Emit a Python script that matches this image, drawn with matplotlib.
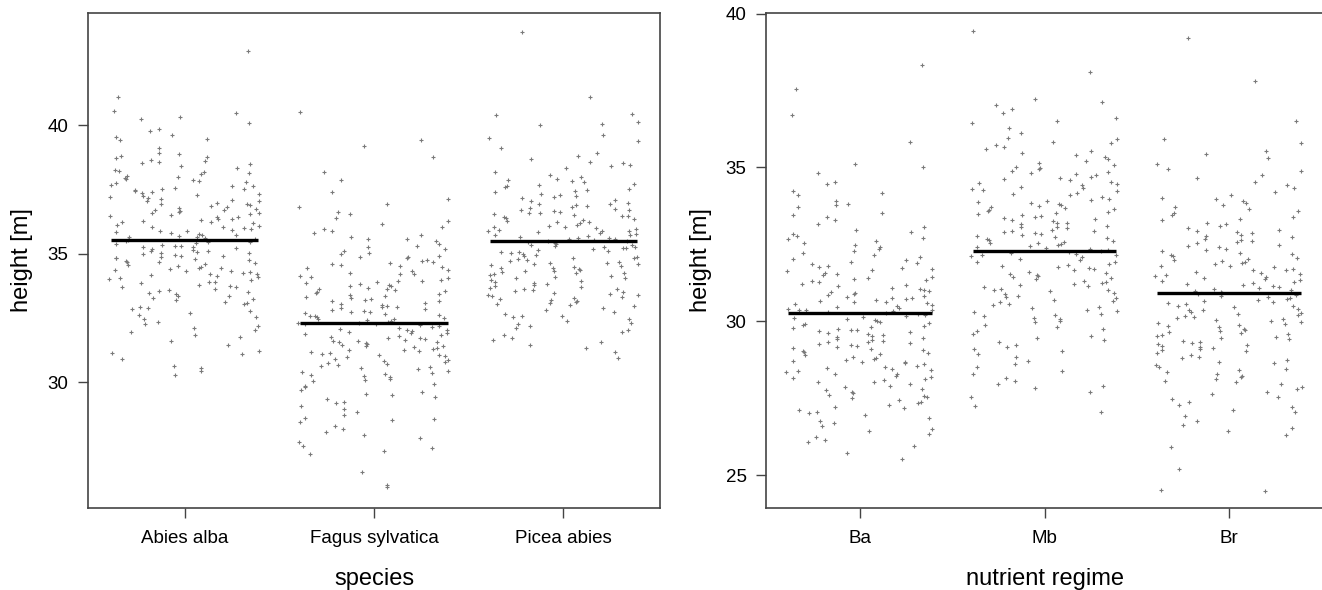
import numpy as np
import matplotlib.pyplot as plt

plt.rcParams['font.family'] = ['Liberation Sans', 'DejaVu Sans']

# tree heights [m] per species (left panel)
species = ['Abies alba', 'Fagus sylvatica', 'Picea abies']
abies_alba = [
    42.88, 41.09,
    40.54, 40.47, 40.31, 40.08, 40.22,
    39.83, 39.78, 39.52, 39.47, 39.41, 39.12, 39.63,
    38.93, 38.81, 38.76, 38.72, 38.65, 38.58, 38.51, 38.47, 38.39, 38.33, 38.27, 38.21, 38.14, 38.08, 38.02, 38.86, 38.62, 38.18,
    37.96, 37.91, 37.84, 37.79, 37.73, 37.68, 37.62, 37.57, 37.53, 37.46, 37.41, 37.37, 37.32, 37.26, 37.21, 37.17, 37.12, 37.06,
    37.03, 37.85, 37.64, 37.43, 37.24, 37.93, 37.09, 37.51,
    36.97, 36.92, 36.88, 36.83, 36.79, 36.74, 36.71, 36.66, 36.62, 36.57, 36.53, 36.49, 36.44, 36.41, 36.36, 36.31, 36.27, 36.22,
    36.18, 36.13, 36.08, 36.04, 36.94, 36.69, 36.46, 36.24, 36.59, 36.33, 36.02, 36.86,
    35.98, 35.94, 35.91, 35.87, 35.83, 35.79, 35.76, 35.72, 35.68, 35.64, 35.61, 35.57, 35.53, 35.49, 35.46, 35.42, 35.38, 35.35,
    35.31, 35.28, 35.24, 35.21, 35.17, 35.14, 35.11, 35.07, 35.04, 35.01, 35.89, 35.66, 35.44, 35.26, 35.09, 35.73,
    34.97, 34.93, 34.89, 34.86, 34.82, 34.78, 34.74, 34.71, 34.67, 34.63, 34.59, 34.56, 34.52, 34.48, 34.45, 34.41, 34.37, 34.34,
    34.31, 34.27, 34.23, 34.19, 34.16, 34.12, 34.08, 34.05, 34.02, 34.91, 34.69, 34.43, 34.21, 34.84,
    33.96, 33.91, 33.85, 33.79, 33.74, 33.68, 33.62, 33.57, 33.51, 33.46, 33.41, 33.36, 33.29, 33.24, 33.18, 33.13, 33.07, 33.02,
    33.88, 33.54, 33.33, 33.71,
    32.94, 32.86, 32.77, 32.68, 32.55, 32.46, 32.33, 32.24, 32.17, 32.09, 32.02, 32.61, 32.89,
    31.93, 31.74, 31.61, 31.43, 31.22, 31.14, 31.08, 31.82,
    30.91, 30.62, 30.53, 30.42, 30.27,
]
fagus_sylvatica = [
    40.52, 39.43, 39.18, 38.74, 38.17,
    37.86, 37.41, 37.12,
    36.94, 36.81, 36.63, 36.52, 36.38, 36.27, 36.14, 36.03,
    35.96, 35.88, 35.79, 35.71, 35.64, 35.55, 35.47, 35.39, 35.31, 35.24, 35.16, 35.09, 35.02, 35.58,
    34.97, 34.92, 34.86, 34.81, 34.76, 34.71, 34.64, 34.58, 34.53, 34.47, 34.42, 34.36, 34.31, 34.25, 34.19, 34.14, 34.08, 34.03,
    34.88, 34.55, 34.22, 34.67,
    33.98, 33.94, 33.89, 33.85, 33.81, 33.76, 33.72, 33.67, 33.63, 33.58, 33.54, 33.49, 33.45, 33.41, 33.36, 33.32, 33.27, 33.23,
    33.18, 33.14, 33.09, 33.05, 33.01, 33.92, 33.61, 33.38, 33.16, 33.74,
    32.97, 32.94, 32.91, 32.87, 32.84, 32.81, 32.77, 32.74, 32.71, 32.67, 32.64, 32.61, 32.57, 32.54, 32.51, 32.47, 32.44, 32.41,
    32.37, 32.34, 32.31, 32.27, 32.24, 32.21, 32.17, 32.14, 32.11, 32.07, 32.04, 32.01, 32.58, 32.29,
    31.98, 31.95, 31.92, 31.89, 31.86, 31.83, 31.79, 31.76, 31.73, 31.70, 31.67, 31.64, 31.61, 31.57, 31.54, 31.51, 31.48, 31.45,
    31.42, 31.39, 31.35, 31.32, 31.29, 31.26, 31.23, 31.20, 31.16, 31.13, 31.10, 31.07, 31.04, 31.01, 31.58,
    30.96, 30.91, 30.87, 30.82, 30.78, 30.73, 30.68, 30.64, 30.59, 30.55, 30.50, 30.45, 30.41, 30.36, 30.32, 30.27, 30.22, 30.18,
    30.13, 30.09, 30.04, 30.71,
    29.93, 29.84, 29.71, 29.62, 29.55, 29.43, 29.36, 29.24, 29.17, 29.08, 29.51, 29.79,
    28.96, 28.85, 28.73, 28.61, 28.52, 28.44, 28.31, 28.19, 28.07, 28.58,
    27.94, 27.81, 27.66, 27.53, 27.42, 27.31, 27.22,
    26.52, 25.98, 25.91,
]
picea_abies = [
    43.63, 41.08,
    40.42, 40.38, 40.13, 40.06, 40.01,
    39.62, 39.51, 39.12, 39.38,
    38.92, 38.67, 38.58, 38.52, 38.46, 38.41, 38.33, 38.19, 38.07, 38.79,
    37.97, 37.91, 37.86, 37.78, 37.71, 37.64, 37.58, 37.52, 37.45, 37.39, 37.33, 37.27, 37.21, 37.16, 37.10, 37.04, 37.82, 37.48,
    37.24, 37.67,
    36.97, 36.93, 36.89, 36.85, 36.81, 36.77, 36.73, 36.69, 36.65, 36.61, 36.57, 36.53, 36.49, 36.45, 36.41, 36.37, 36.33, 36.29,
    36.25, 36.21, 36.17, 36.13, 36.09, 36.05, 36.02, 36.91, 36.71, 36.47, 36.23, 36.59,
    35.98, 35.95, 35.92, 35.89, 35.86, 35.83, 35.80, 35.77, 35.74, 35.71, 35.68, 35.65, 35.62, 35.59, 35.56, 35.53, 35.50, 35.47,
    35.44, 35.41, 35.38, 35.35, 35.32, 35.29, 35.26, 35.23, 35.20, 35.17, 35.14, 35.11, 35.08, 35.05, 35.02, 35.87, 35.57, 35.27,
    34.97, 34.94, 34.91, 34.88, 34.84, 34.81, 34.78, 34.75, 34.71, 34.68, 34.65, 34.62, 34.58, 34.55, 34.52, 34.49, 34.45, 34.42,
    34.39, 34.36, 34.32, 34.29, 34.26, 34.23, 34.19, 34.16, 34.13, 34.10, 34.06, 34.03, 34.60, 34.34,
    33.97, 33.93, 33.89, 33.85, 33.82, 33.78, 33.74, 33.70, 33.66, 33.62, 33.58, 33.55, 33.51, 33.47, 33.43, 33.39, 33.35, 33.31,
    33.28, 33.24, 33.20, 33.16, 33.12, 33.08, 33.04, 33.01, 33.64, 33.37,
    32.95, 32.88, 32.81, 32.74, 32.66, 32.59, 32.52, 32.45, 32.38, 32.31, 32.24, 32.17, 32.10, 32.03, 32.56,
    31.96, 31.83, 31.71, 31.62, 31.54, 31.43, 31.31, 31.18,
    30.94,
]
species_means = [35.52, 32.30, 35.50]

# tree heights [m] per nutrient regime (right panel)
regimes = ['Ba', 'Mb', 'Br']
regime_ba = [
    38.34, 37.56, 36.71, 35.82, 35.11, 35.03,
    34.81, 34.52, 34.47, 34.23, 34.18, 34.09,
    33.92, 33.81, 33.77, 33.72, 33.51, 33.44, 33.38, 33.29, 33.17, 33.06,
    32.96, 32.91, 32.84, 32.77, 32.71, 32.62, 32.55, 32.48, 32.41, 32.36, 32.28, 32.21, 32.15, 32.09, 32.03, 32.68,
    31.98, 31.94, 31.89, 31.85, 31.80, 31.76, 31.71, 31.67, 31.62, 31.58, 31.53, 31.49, 31.44, 31.40, 31.35, 31.31, 31.26, 31.22,
    31.17, 31.13, 31.08, 31.04, 31.01, 31.73, 31.37,
    30.98, 30.95, 30.92, 30.89, 30.86, 30.83, 30.80, 30.77, 30.74, 30.71, 30.68, 30.65, 30.62, 30.59, 30.56, 30.53, 30.50, 30.47,
    30.44, 30.41, 30.38, 30.35, 30.32, 30.29, 30.26, 30.23, 30.20, 30.17, 30.14, 30.11, 30.08, 30.05, 30.02, 30.61, 30.37,
    29.97, 29.94, 29.91, 29.88, 29.85, 29.82, 29.79, 29.76, 29.73, 29.70, 29.67, 29.64, 29.61, 29.58, 29.55, 29.52, 29.49, 29.46,
    29.43, 29.40, 29.37, 29.34, 29.31, 29.28, 29.25, 29.22, 29.19, 29.16, 29.13, 29.10, 29.07, 29.04, 29.01,
    28.96, 28.93, 28.89, 28.85, 28.82, 28.78, 28.74, 28.71, 28.67, 28.63, 28.60, 28.56, 28.52, 28.49, 28.45, 28.41, 28.38, 28.34,
    28.30, 28.27, 28.23, 28.19, 28.16, 28.12, 28.08, 28.04, 28.01, 28.69,
    27.96, 27.91, 27.86, 27.81, 27.76, 27.71, 27.66, 27.61, 27.55, 27.50, 27.44, 27.39, 27.33, 27.28, 27.22, 27.17, 27.11, 27.06,
    27.02, 27.58,
    26.94, 26.85, 26.77, 26.68, 26.59, 26.51, 26.42, 26.33, 26.24, 26.15, 26.07,
    25.93, 25.71, 25.52,
]
regime_mb = [
    39.42, 38.11, 37.21, 37.12, 37.02,
    36.91, 36.78, 36.62, 36.51, 36.43, 36.28, 36.13,
    35.97, 35.91, 35.84, 35.78, 35.72, 35.66, 35.59, 35.53, 35.47, 35.41, 35.34, 35.27, 35.21, 35.15, 35.08, 35.02,
    34.98, 34.94, 34.90, 34.86, 34.82, 34.78, 34.74, 34.70, 34.66, 34.62, 34.58, 34.54, 34.50, 34.46, 34.42, 34.38, 34.34, 34.30,
    34.26, 34.22, 34.18, 34.14, 34.10, 34.04,
    33.98, 33.95, 33.91, 33.88, 33.85, 33.81, 33.78, 33.75, 33.71, 33.68, 33.65, 33.61, 33.58, 33.55, 33.51, 33.48, 33.45, 33.41,
    33.38, 33.35, 33.31, 33.28, 33.25, 33.21, 33.18, 33.15, 33.11, 33.08, 33.05, 33.02,
    32.98, 32.95, 32.92, 32.89, 32.86, 32.83, 32.80, 32.77, 32.74, 32.71, 32.68, 32.65, 32.62, 32.59, 32.56, 32.53, 32.50, 32.47,
    32.44, 32.41, 32.38, 32.35, 32.32, 32.29, 32.26, 32.23, 32.20, 32.17, 32.14, 32.11, 32.08, 32.04,
    31.98, 31.94, 31.91, 31.87, 31.83, 31.80, 31.76, 31.72, 31.69, 31.65, 31.61, 31.58, 31.54, 31.50, 31.47, 31.43, 31.39, 31.36,
    31.32, 31.28, 31.25, 31.21, 31.17, 31.14, 31.10, 31.06, 31.03, 31.01,
    30.97, 30.92, 30.88, 30.83, 30.79, 30.74, 30.70, 30.65, 30.61, 30.56, 30.52, 30.47, 30.43, 30.38, 30.34, 30.29, 30.25, 30.20,
    30.16, 30.11, 30.07, 30.02,
    29.96, 29.89, 29.82, 29.74, 29.67, 29.60, 29.53, 29.46, 29.38, 29.31, 29.24, 29.17, 29.10, 29.03,
    28.94, 28.83, 28.72, 28.61, 28.50, 28.39, 28.28, 28.17, 28.06,
    27.95, 27.88, 27.82, 27.71, 27.54, 27.23, 27.04,
]
regime_br = [
    39.21, 37.82, 36.52,
    35.94, 35.78, 35.52, 35.44, 35.31, 35.12,
    34.96, 34.87, 34.76, 34.65, 34.54, 34.43, 34.32, 34.21, 34.10, 34.02,
    33.97, 33.91, 33.85, 33.78, 33.72, 33.66, 33.59, 33.53, 33.47, 33.40, 33.34, 33.28, 33.21, 33.15, 33.09, 33.03,
    32.98, 32.94, 32.90, 32.86, 32.82, 32.78, 32.73, 32.69, 32.65, 32.61, 32.57, 32.53, 32.48, 32.44, 32.40, 32.36, 32.32, 32.28,
    32.23, 32.19, 32.15, 32.11, 32.07, 32.02,
    31.98, 31.95, 31.91, 31.88, 31.85, 31.81, 31.78, 31.75, 31.71, 31.68, 31.65, 31.61, 31.58, 31.55, 31.51, 31.48, 31.45, 31.41,
    31.38, 31.35, 31.31, 31.28, 31.25, 31.21, 31.18, 31.15, 31.11, 31.08, 31.05, 31.02,
    30.98, 30.95, 30.91, 30.88, 30.85, 30.81, 30.78, 30.75, 30.71, 30.68, 30.65, 30.61, 30.58, 30.55, 30.51, 30.48, 30.45, 30.41,
    30.38, 30.35, 30.31, 30.28, 30.25, 30.21, 30.18, 30.15, 30.11, 30.08, 30.05, 30.02,
    29.98, 29.94, 29.91, 29.87, 29.84, 29.80, 29.76, 29.73, 29.69, 29.66, 29.62, 29.59, 29.55, 29.51, 29.48, 29.44, 29.41, 29.37,
    29.34, 29.30, 29.26, 29.23, 29.19, 29.16, 29.12, 29.09, 29.05, 29.02,
    28.96, 28.91, 28.85, 28.79, 28.74, 28.68, 28.63, 28.57, 28.51, 28.46, 28.40, 28.35, 28.29, 28.23, 28.18, 28.12, 28.07, 28.02,
    27.95, 27.87, 27.79, 27.70, 27.62, 27.54, 27.46, 27.38, 27.29, 27.21, 27.13, 27.05,
    26.91, 26.77, 26.64, 26.52, 26.43, 26.31,
    25.92, 25.21, 24.53, 24.49,
]
regime_means = [30.28, 32.27, 30.93]


def jitter(n, seed_shift):
    # deterministic spread across the category width (like R's jitter)
    i = np.arange(n) + seed_shift
    u = (i * i * np.sqrt(2) + i * 0.6180339887) % 1.0
    return (u - 0.5) * 0.8


def strip_panel(ax, groups, means, labels, ylim, yticks, xlabel):
    for k, vals in enumerate(groups):
        vals = np.asarray(vals)
        x = k + 1 + jitter(len(vals), 37 * k + 11)
        ax.plot(x, vals, '+', color='#7a7a7a', ms=3.4, mew=0.8, ls='none')
        ax.plot([k + 1 - 0.39, k + 1 + 0.39], [means[k], means[k]], color='black', lw=2.4,
                solid_capstyle='butt')
    ax.set_xlim(0.49, 3.51)
    ax.set_ylim(*ylim)
    ax.set_xticks([1, 2, 3])
    ax.set_xticklabels(labels)
    ax.set_yticks(yticks)
    ax.tick_params(direction='out', length=7, width=1, color='#444444', labelsize=13.5)
    ax.tick_params(axis='x', pad=9)
    ax.tick_params(axis='y', pad=7)
    for s in ax.spines.values():
        s.set_color('#444444')
        s.set_linewidth(1.2)
    ax.set_xlabel(xlabel, fontsize=17)
    ax.set_ylabel('height [m]', fontsize=17)
    ax.xaxis.set_label_coords(0.5, -0.122)


W, H = 1322, 590
fig = plt.figure(figsize=(W / 100, H / 100), dpi=100)
ax1 = fig.add_axes([88 / W, 82 / H, 572 / W, 495 / H])
ax2 = fig.add_axes([766 / W, 82 / H, 557 / W, 495 / H])

strip_panel(ax1, [abies_alba, fagus_sylvatica, picea_abies], species_means, species,
            (25.1, 44.36), [30, 35, 40], 'species')
strip_panel(ax2, [regime_ba, regime_mb, regime_br], regime_means, regimes,
            (23.93, 40.02), [25, 30, 35, 40], 'nutrient regime')
ax1.yaxis.set_label_coords(-55 / 572, 0.5)
ax2.yaxis.set_label_coords(-54 / 557, 0.5)

fig.savefig('out.png', dpi=100)
